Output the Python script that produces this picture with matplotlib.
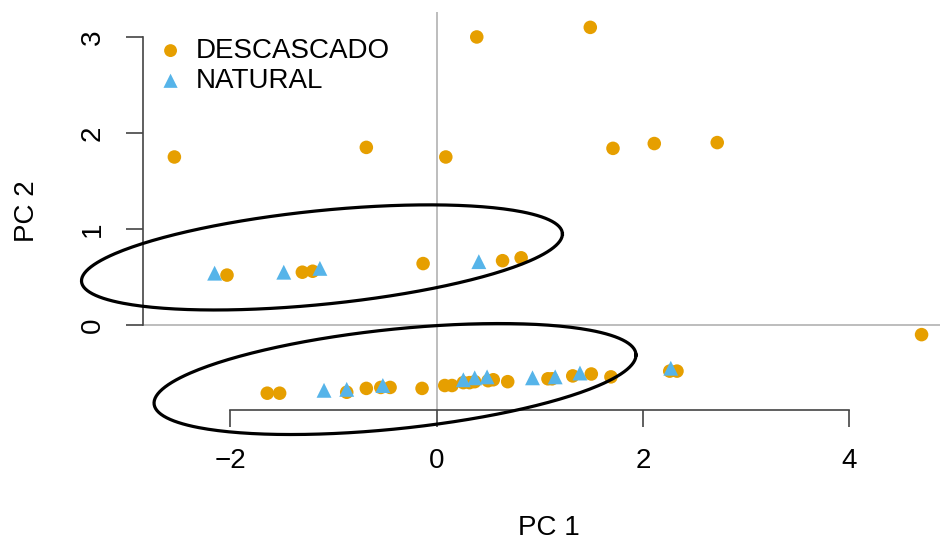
import numpy as np
import matplotlib
matplotlib.use("Agg")
import matplotlib.pyplot as plt

plt.rcParams['font.family'] = ['Liberation Sans', 'DejaVu Sans']

# PCA scores
desc_pc1 = [0.39, 1.49, -2.54, -0.68, 0.09, 1.71, 2.11, 2.72, 4.70,
            -2.03, -1.30, -1.20, -0.13, 0.64, 0.82,
            -1.64, -1.52, -0.87, -0.68, -0.54, -0.45, -0.14, 0.08, 0.15,
            0.26, 0.32, 0.37, 0.50, 0.55, 0.69, 1.08, 1.12, 1.32, 1.50,
            1.69, 2.26, 2.33]
desc_pc2 = [3.00, 3.10, 1.75, 1.85, 1.75, 1.84, 1.89, 1.90, -0.10,
            0.52, 0.55, 0.56, 0.64, 0.67, 0.70,
            -0.71, -0.71, -0.70, -0.66, -0.65, -0.65, -0.66, -0.63, -0.63,
            -0.60, -0.60, -0.59, -0.58, -0.57, -0.59, -0.56, -0.56, -0.53, -0.51,
            -0.54, -0.48, -0.48]

nat_pc1 = [-2.15, -1.48, -1.13, 0.41,
           -1.09, -0.87, -0.52, 0.26, 0.37, 0.49, 0.93, 1.15, 1.39, 2.27]
nat_pc2 = [0.54, 0.55, 0.59, 0.66,
           -0.68, -0.67, -0.63, -0.57, -0.55, -0.54, -0.55, -0.54, -0.50, -0.45]

# ellipses: center, major half-axis vector, conjugate half-axis vector
ell_centers = [(-1.11, 0.704), (-0.402, -0.5625)]
ell_major = [(2.33, 0.244), (2.335, 0.25)]
ell_minor = [(0.0, 0.49), (0.0, 0.521)]

orange = '#E69F00'
blue = '#56B4E9'

fig = plt.figure(figsize=(9.4, 5.4), dpi=100)
ax = fig.add_axes([143/940, 130/540, 808.5/940, 398/540])
ax.set_xlim(-2.844, 4.99)
ax.set_ylim(-0.885, 3.26)

ax.axhline(0, color='#bdbdbd', lw=1.4, zorder=1)
ax.axvline(0, color='#bdbdbd', lw=1.4, zorder=1)

h1 = ax.scatter(desc_pc1, desc_pc2, s=95, marker='o', color=orange,
                edgecolors='none', zorder=3, label='DESCASCADO')
h2 = ax.scatter(nat_pc1, nat_pc2, s=115, marker='^', color=blue,
                edgecolors='none', zorder=3, label='NATURAL')

t = np.linspace(0, 2*np.pi, 300)
for (cx, cy), (ux, uy), (vx, vy) in zip(ell_centers, ell_major, ell_minor):
    ex = cx + ux*np.cos(t) + vx*np.sin(t)
    ey = cy + uy*np.cos(t) + vy*np.sin(t)
    ax.plot(ex, ey, color='black', lw=2.3, zorder=4, clip_on=False)

for s in ['top', 'right']:
    ax.spines[s].set_visible(False)
ax.spines['left'].set_bounds(0, 3)
ax.spines['bottom'].set_bounds(-2, 4)
for s in ['left', 'bottom']:
    ax.spines[s].set_color('#444444')
    ax.spines[s].set_linewidth(1.2)

ax.set_xticks([-2, 0, 2, 4])
ax.set_yticks([0, 1, 2, 3])
ax.set_xticklabels(['\u22122', '0', '2', '4'])
ax.tick_params(axis='both', length=12, width=1.2, color='#444444',
               labelsize=20, pad=15)
for lab in ax.get_yticklabels():
    lab.set_rotation(90)
    lab.set_va('center')

fig.text(549/940, 1 - 528/540, 'PC 1', ha='center', va='center', fontsize=20)
fig.text(27/940, 1 - 211/540, 'PC 2', ha='center', va='center',
         fontsize=20, rotation=90)

ax.legend(handles=[h1, h2], loc='upper left', frameon=False, fontsize=20,
          bbox_to_anchor=(140/940, 1 - 24/540), bbox_transform=fig.transFigure,
          handletextpad=0.32, labelspacing=0.15, borderpad=0, handlelength=1.2,
          markerscale=0.95)

fig.savefig('out.png', dpi=100)
